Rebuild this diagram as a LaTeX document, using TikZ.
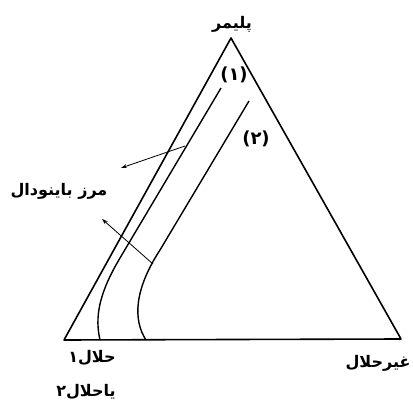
\documentclass[tikz,border=0pt]{standalone}
\usepackage{fontspec}
\newfontfamily\arabicfont[Script=Arabic]{DejaVu Sans}
\TeXXeTstate=1
\usetikzlibrary{arrows.meta}

\begin{document}
\begin{tikzpicture}[x=1pt, y=-1pt,
  edge/.style={line width=1.6pt, line join=round},
  curve/.style={line width=1.4pt},
  pointer/.style={line width=0.8pt, -{Stealth[length=6pt, width=4pt]}},
  label/.style={font=\fontsize{16}{18}\selectfont\arabicfont\bfseries, inner sep=0pt},
  number/.style={font=\fontsize{18}{20}\selectfont\arabicfont\bfseries, inner sep=0pt}]
\useasboundingbox (0,0) rectangle (413,404);
% triangle corners
\coordinate (top) at (231,38);
\coordinate (left) at (64,340);
\coordinate (right) at (401,339);
\draw[edge] (top) -- (left) -- (right) -- cycle;
% binodal curves
\draw[curve] (221,88) -- (120,258) .. controls (98,295) and (95,318) .. (100,340);
\draw[curve] (249,101) -- (160,250) .. controls (134,290) and (133,320) .. (146,340);
% labels
\node[label] (polymer) at (232,24) {\beginR پلیمر\endR};
\node[number] (one) at (234,75) {(۱)};
\node[number] (two) at (256,139) {(۲)};
\node[label] (binodal) at (59,191) {\beginR مرز باینودال\endR};
\node[label] (solv1) at (92,358) {\beginR حلال۱\endR};
\node[label] (solv2) at (86,392) {\beginR یاحلال۲\endR};
\node[label] (nonsolv) at (378,363) {\beginR غیرحلال\endR};
% pointers
\coordinate (p1) at (185,146);
\coordinate (q1) at (121,168);
\coordinate (p2) at (153,264);
\coordinate (q2) at (102,219);
\draw[pointer] (p1) -- (q1);
\draw[pointer] (p2) -- (q2);
\end{tikzpicture}
\end{document}
